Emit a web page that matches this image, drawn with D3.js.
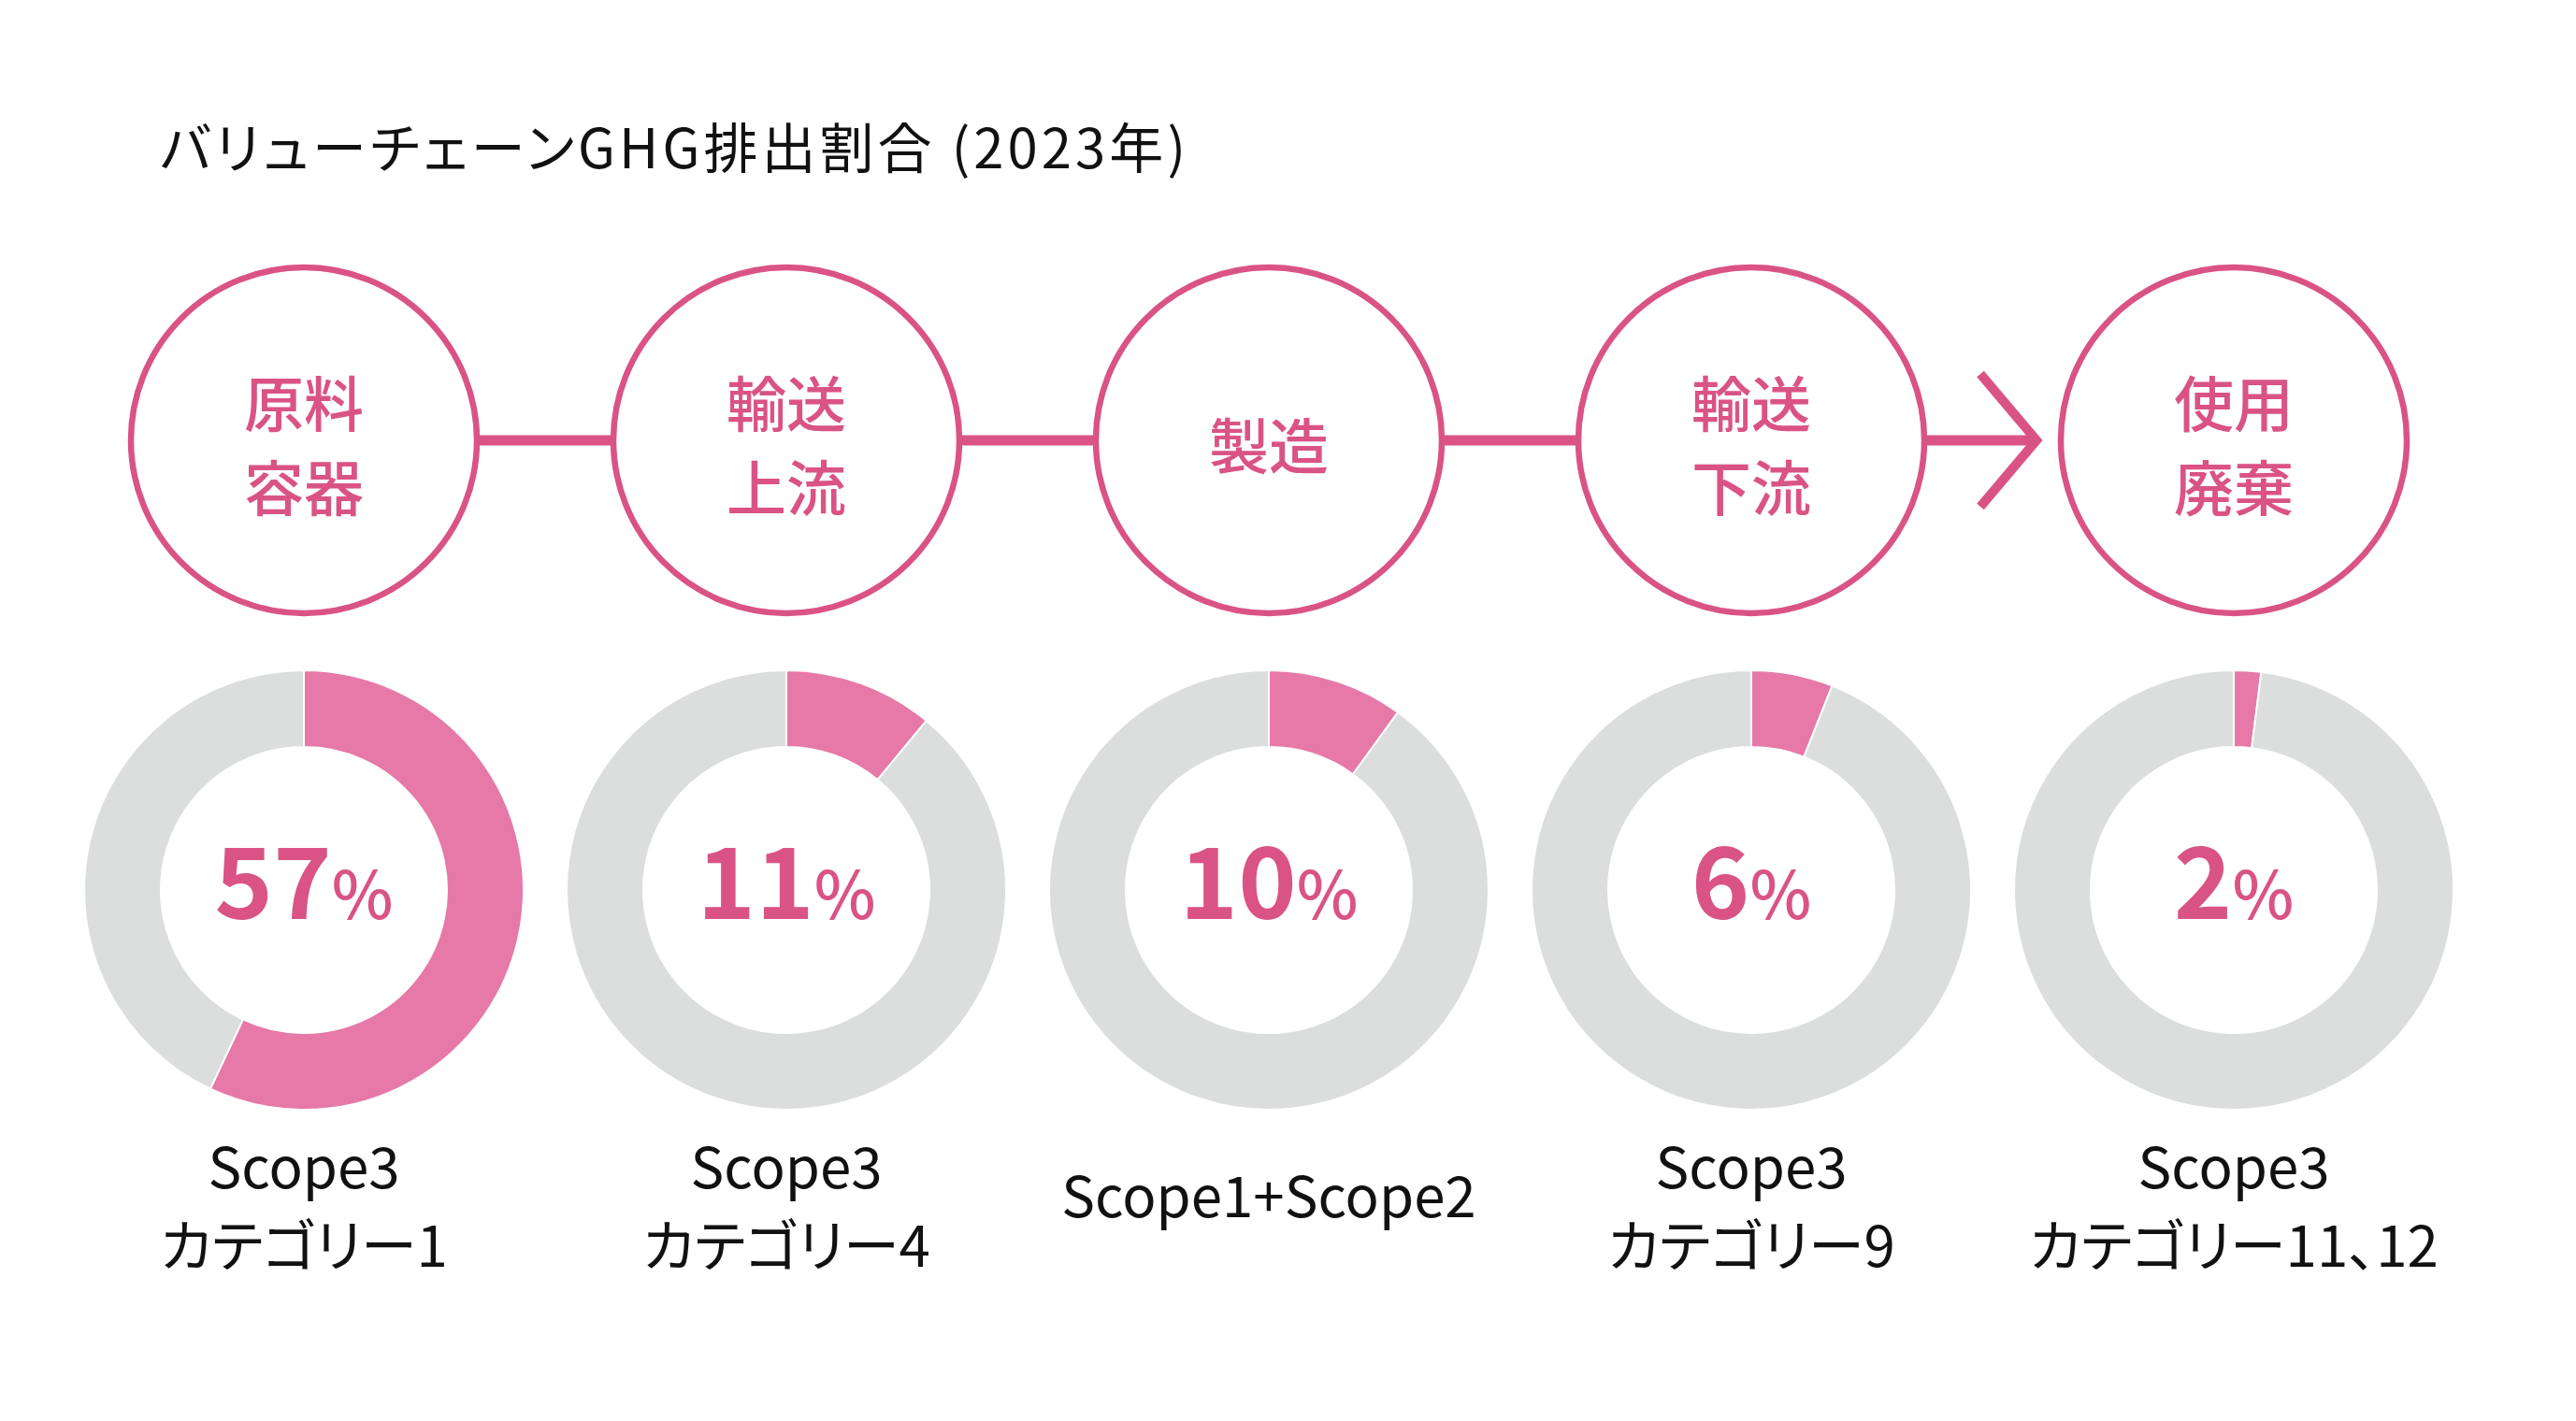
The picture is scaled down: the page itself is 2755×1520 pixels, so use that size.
<!DOCTYPE html>
<html>
<head>
<meta charset="utf-8">
<script src="https://cdn.jsdelivr.net/npm/d3@7"></script>
<style>
  html, body { margin: 0; padding: 0; background: #ffffff; }
  svg { display: block; }
  text { font-family: "Noto Sans CJK JP", "Noto Sans", sans-serif; font-feature-settings: "palt"; }
</style>
</head>
<body>
<svg id="chart" width="2755" height="1520"></svg>
<script>
// ---- data ----
const title = "バリューチェーンGHG排出割合 (2023年)";
const stages = [["原料", "容器"], ["輸送", "上流"], ["製造"], ["輸送", "下流"], ["使用", "廃棄"]];
const shares = [57, 11, 10, 6, 2];
const scopeLabels = [
  ["Scope3", "カテゴリー1"],
  ["Scope3", "カテゴリー4"],
  ["Scope1+Scope2"],
  ["Scope3", "カテゴリー9"],
  ["Scope3", "カテゴリー11、12"]
];
const connectorTypes = ["line", "line", "line", "arrow"];

// ---- layout ----
const W = 2755, H = 1520;
const pink = "#da5385", pinkFill = "#e679a7", grey = "#dcdddd", ink = "#111111";
const svg = d3.select("#chart");

const x = d3.scalePoint().domain(d3.range(stages.length)).range([325, 2389]);
const circleY = 471, circleR = 185;
const donutY = 952, rOuter = 235, rInner = 153;

// title
svg.append("text")
  .attr("x", 171).attr("y", 155)
  .attr("dominant-baseline", "central")
  .attr("font-size", 58).attr("fill", ink)
  .attr("textLength", 1097).attr("lengthAdjust", "spacing")
  .text(title);

// connectors
connectorTypes.forEach((t, i) => {
  const x0 = x(i) + circleR, x1 = x(i + 1) - circleR;
  if (t === "line") {
    svg.append("line").attr("x1", x0).attr("x2", x1).attr("y1", circleY).attr("y2", circleY)
      .attr("stroke", pink).attr("stroke-width", 11);
  } else {
    const tip = x1 - 24;
    svg.append("line").attr("x1", x0).attr("x2", tip - 6).attr("y1", circleY).attr("y2", circleY)
      .attr("stroke", pink).attr("stroke-width", 11);
    svg.append("path")
      .attr("d", d3.line()([[tip - 62, circleY - 71], [tip - 2, circleY], [tip - 62, circleY + 71]]))
      .attr("fill", "none").attr("stroke", pink).attr("stroke-width", 10)
      .attr("stroke-linejoin", "miter").attr("stroke-miterlimit", 10);
  }
});

// stage circles
const stageG = svg.selectAll("g.stage").data(stages).join("g")
  .attr("class", "stage")
  .attr("transform", (d, i) => `translate(${x(i)},${circleY})`);
stageG.append("circle").attr("r", circleR).attr("fill", "#fff")
  .attr("stroke", pink).attr("stroke-width", 6.5);
stageG.each(function(lines) {
  const g = d3.select(this);
  const lh = 90;
  lines.forEach((s, j) => {
    g.append("text")
      .attr("x", 0)
      .attr("y", (j - (lines.length - 1) / 2) * lh + 2)
      .attr("text-anchor", "middle").attr("dominant-baseline", "central")
      .attr("font-size", 64).attr("font-weight", 500).attr("fill", pink)
      .text(s);
  });
});

// donuts
const pie = d3.pie().sort(null).value(d => d);
const arc = d3.arc().innerRadius(rInner).outerRadius(rOuter);
const donutG = svg.selectAll("g.donut").data(shares).join("g")
  .attr("class", "donut")
  .attr("transform", (d, i) => `translate(${x(i)},${donutY})`);
donutG.selectAll("path")
  .data(v => pie([v, 100 - v]))
  .join("path")
  .attr("d", arc)
  .attr("fill", (d, k) => k === 0 ? pinkFill : grey)
  .attr("stroke", "#fff").attr("stroke-width", 2);
const pct = donutG.append("text")
  .attr("x", 0).attr("y", 31)
  .attr("text-anchor", "middle")
  .attr("fill", pink);
pct.append("tspan").attr("font-size", 106).attr("font-weight", 700).text(d => d);
pct.append("tspan").attr("font-size", 70).attr("font-weight", 500).text("%");

// scope labels
const labelG = svg.selectAll("g.lbl").data(scopeLabels).join("g")
  .attr("class", "lbl")
  .attr("transform", (d, i) => `translate(${x(i)},0)`);
labelG.each(function(lines) {
  const g = d3.select(this);
  const lh = 84;
  const base = lines.length === 1 ? 1302 : 1271;
  lines.forEach((s, j) => {
    g.append("text")
      .attr("x", 0).attr("y", base + j * lh)
      .attr("text-anchor", "middle")
      .attr("font-size", 60).attr("fill", ink)
      .text(s);
  });
});
</script>
</body>
</html>
